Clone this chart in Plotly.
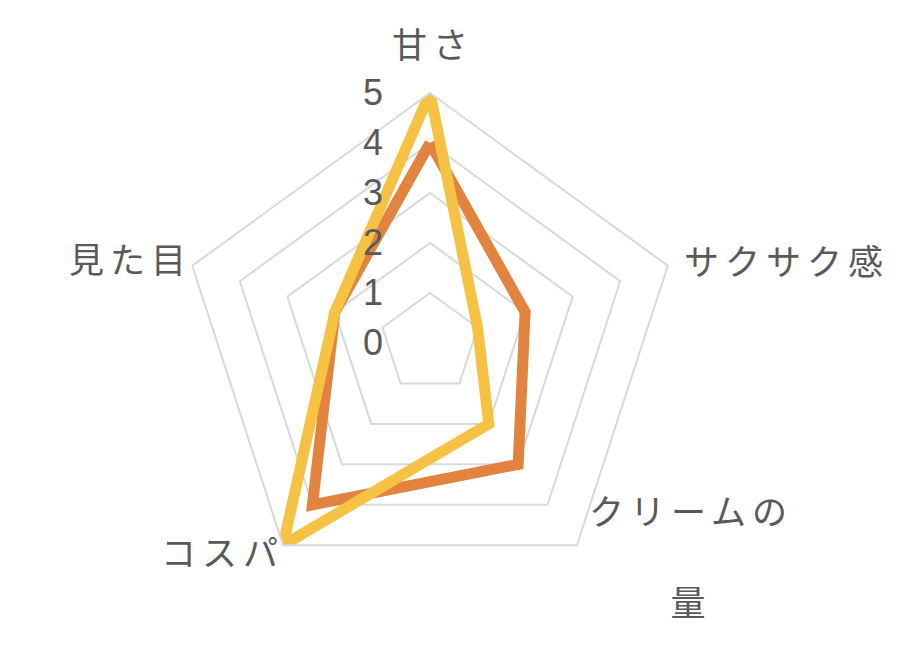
import math
import plotly.graph_objects as go

categories = ["甘さ", "サクサク感", "クリームの量", "コスパ", "見た目"]
series_orange = [4, 2, 3, 4, 2]
series_yellow = [5, 1, 2, 5, 2]
radial_ticks = [0, 1, 2, 3, 4, 5]

W, H = 923, 662
cx, cy, R = 430, 343, 250
FONT = "Noto Sans CJK JP"
GRAY = "#595959"
LS = 6  # letter spacing (px)
FS = 35

def closed(v):
    return v + v[:1]

fig = go.Figure()
fig.add_trace(go.Scatterpolar(
    r=closed(series_orange), theta=closed(categories), mode="lines",
    line=dict(color="#E2843F", width=11), showlegend=False, hoverinfo="skip"))
fig.add_trace(go.Scatterpolar(
    r=closed(series_yellow), theta=closed(categories), mode="lines",
    line=dict(color="#F5C243", width=11), showlegend=False, hoverinfo="skip"))

# category labels placed around the outer ring (layout offsets per label)
label_layout = {
    "甘さ":       dict(dx=LS / 2, dy=-51, xanchor="center", text="甘さ"),
    "サクサク感": dict(dx=14, dy=-6, xanchor="left", text="サクサク感"),
    "クリームの量": dict(dx=10, dy=10, xanchor="left", text="クリームの<br><br>量"),
    "コスパ":     dict(dx=-3 + LS, dy=5, xanchor="right", text="コスパ"),
    "見た目":     dict(dx=-4 + LS, dy=-8, xanchor="right", text="見た目"),
}
n = len(categories)
for i, cat in enumerate(categories):
    ang = math.radians(90 - 360 * i / n)
    vx = cx + R * math.cos(ang)
    vy = cy - R * math.sin(ang)
    L = label_layout[cat]
    fig.add_annotation(
        x=(vx + L["dx"]) / W, y=1 - (vy + L["dy"]) / H,
        xref="paper", yref="paper", xanchor=L["xanchor"], yanchor="middle",
        align="center", showarrow=False,
        text=f'<span style="letter-spacing:{LS}px">{L["text"]}</span>'.replace(
            "<br>", f'</span><br><span style="letter-spacing:{LS}px">'),
        font=dict(family=FONT, size=FS, color=GRAY),
    )

fig.update_layout(
    width=W, height=H,
    margin=dict(l=0, r=0, t=0, b=0),
    paper_bgcolor="white",
    showlegend=False,
    font=dict(family=FONT, color=GRAY, size=30),
    polar=dict(
        domain=dict(x=[(cx - R) / W, (cx + R) / W],
                    y=[(H - cy - R) / H, (H - cy + R) / H]),
        bgcolor="white",
        gridshape="linear",
        radialaxis=dict(
            range=[0, 5], tickvals=radial_ticks, angle=90,
            side="counterclockwise", tickangle=90,
            showline=False, gridcolor="#D9D9D9", gridwidth=2,
            ticks="outside", ticklen=34, tickcolor="rgba(0,0,0,0)",
            tickfont=dict(size=36, color=GRAY, family="Liberation Sans"),
        ),
        angularaxis=dict(
            rotation=90, direction="clockwise",
            showgrid=False, showline=True, linecolor="#D9D9D9", linewidth=2,
            showticklabels=False, ticks="",
        ),
    ),
)

fig.write_html("out.html")
